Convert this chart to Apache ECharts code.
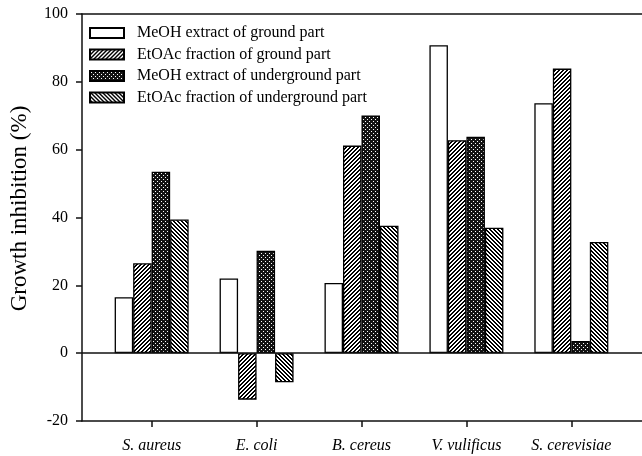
<!DOCTYPE html>
<html>
<head>
<meta charset="utf-8">
<script src="https://cdn.jsdelivr.net/npm/echarts@6/dist/echarts.min.js"></script>
<style>
html,body{margin:0;padding:0;background:#fff;}
#chart{width:642px;height:456px;}
</style>
</head>
<body>
<div id="chart"></div>
<script>
const categories = ['S. aureus', 'E. coli', 'B. cereus', 'V. vulificus', 'S. cerevisiae'];
const seriesNames = ['MeOH extract of ground part', 'EtOAc fraction of ground part', 'MeOH extract of underground part', 'EtOAc fraction of underground part'];
const meohGround = [16.5, 22.0, 20.7, 90.8, 73.7];
const etoacGround = [26.5, -13.7, 61.2, 62.8, 83.9];
const meohUnderground = [53.5, 30.2, 70.1, 63.8, 3.6];
const etoacUnderground = [39.4, -8.6, 37.6, 37.0, 32.8];
const yTicks = [-20, 0, 20, 40, 60, 80, 100];
const yAxisTitle = 'Growth inhibition (%)';

function makeTile(w, h, fn) {
  const c = document.createElement('canvas');
  c.width = w; c.height = h;
  const ctx = c.getContext('2d');
  const img = ctx.createImageData(w, h);
  for (let y = 0; y < h; y++) {
    for (let x = 0; x < w; x++) {
      const v = fn(x, y);
      const i = (y * w + x) * 4;
      img.data[i] = v; img.data[i + 1] = v; img.data[i + 2] = v; img.data[i + 3] = 255;
    }
  }
  ctx.putImageData(img, 0, 0);
  return c;
}
const fwdHatch = makeTile(4, 4, (x, y) => ((x + y) % 4 < 2 ? 0 : 255));
const backHatch = makeTile(4, 4, (x, y) => (((x - y) % 4 + 4) % 4 < 2 ? 0 : 255));
const checker = makeTile(4, 4, (x, y) => ((x === 1 && y === 1) || (x === 3 && y === 3) ? 255 : 20));

const fills = ['#ffffff', { image: fwdHatch, repeat: 'repeat' }, { image: checker, repeat: 'repeat' }, { image: backHatch, repeat: 'repeat' }];
const values = [meohGround, etoacGround, meohUnderground, etoacUnderground];

const serif = 'Liberation Serif, Times New Roman, serif';
const lineStyle = { color: '#111', width: 1.5 };

const chart = echarts.init(document.getElementById('chart'), null, { renderer: 'canvas' });

const barSeries = values.map((v, i) => ({
  name: seriesNames[i],
  type: 'bar',
  xAxisIndex: 2,
  yAxisIndex: 1,
  data: v,
  barWidth: 18.5,
  barGap: '0%',
  itemStyle: { color: fills[i], borderColor: '#000', borderWidth: 1.3 },
  emphasis: { disabled: true },
  z: 3
}));

chart.setOption({
  animation: false,
  backgroundColor: '#fff',
  grid: [
    { left: 77.5, right: 0, top: 14, bottom: 35 },
    { left: 99.2, right: 18.2, top: 14, bottom: 35 }
  ],
  legend: {
    orient: 'vertical',
    left: 89,
    top: 25,
    padding: 0,
    icon: 'rect',
    itemWidth: 34,
    itemHeight: 10,
    itemGap: 5.5,
    data: seriesNames,
    textStyle: { fontFamily: serif, fontSize: 16, color: '#000', lineHeight: 16, padding: [0, 0, 0, 8] },
    selectedMode: false
  },
  xAxis: [
    { gridIndex: 0, type: 'value', min: 0, max: 1, position: 'bottom',
      axisLine: { show: true, onZero: false, lineStyle: lineStyle },
      axisTick: { show: false }, axisLabel: { show: false }, splitLine: { show: false } },
    { gridIndex: 0, type: 'value', min: 0, max: 1, position: 'top',
      axisLine: { show: true, onZero: false, lineStyle: lineStyle },
      axisTick: { show: false }, axisLabel: { show: false }, splitLine: { show: false } },
    { gridIndex: 1, type: 'category', data: categories, position: 'bottom',
      axisLine: { show: false, onZero: false },
      axisTick: { show: true, alignWithLabel: true, length: 6, lineStyle: lineStyle },
      axisLabel: { fontFamily: serif, fontStyle: 'italic', fontSize: 16, color: '#000', margin: 17 },
      splitLine: { show: false } }
  ],
  yAxis: [
    { gridIndex: 0, type: 'value', min: yTicks[0], max: yTicks[yTicks.length - 1], interval: 20,
      axisLine: { show: true, lineStyle: lineStyle },
      axisTick: { show: true, length: 6, lineStyle: lineStyle },
      axisLabel: { fontFamily: serif, fontSize: 16, color: '#000', margin: 14 },
      splitLine: { show: false },
      name: yAxisTitle, nameLocation: 'middle', nameGap: 51,
      nameTextStyle: { fontFamily: serif, fontSize: 23, color: '#000', padding: [0, 0, 0, 18] } },
    { gridIndex: 1, type: 'value', min: yTicks[0], max: yTicks[yTicks.length - 1], interval: 20,
      show: false, splitLine: { show: false } }
  ],
  series: [
    {
      type: 'line', xAxisIndex: 0, yAxisIndex: 0, data: [], silent: true,
      markLine: { silent: true, symbol: 'none', label: { show: false },
        lineStyle: { color: '#111', width: 1.5, type: 'solid' },
        data: [{ yAxis: 0 }] },
      z: 2
    }
  ].concat(barSeries)
});
</script>
</body>
</html>
